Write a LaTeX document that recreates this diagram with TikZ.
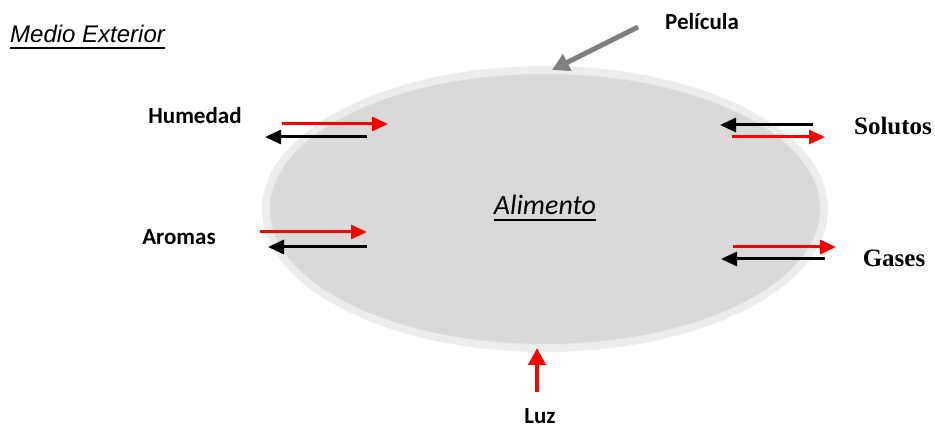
\documentclass[tikz,border=0pt]{standalone}
\usepackage{fontspec}
\setmainfont{Liberation Sans}
\newfontfamily\calib{Carlito}
\newfontfamily\serifb{Liberation Serif}
\usetikzlibrary{arrows.meta}
\definecolor{filmgray}{HTML}{ECECEC}
\definecolor{foodgray}{HTML}{D9D9D9}
\definecolor{arrowgray}{HTML}{808080}
\tikzset{
  lbl/.style={font=\calib\bfseries\fontsize{23}{26}\selectfont, anchor=base, inner sep=0pt},
  serlbl/.style={font=\serifb\bfseries\fontsize{25}{28}\selectfont, anchor=base, inner sep=0pt},
  flux/.style={line width=3pt, -{Triangle[length=16pt,width=14pt]}},
  inflow/.style={flux, red},
  outflow/.style={flux, black},
}
\begin{document}
\begin{tikzpicture}[x=1pt,y=-1pt]
\useasboundingbox (0,0) rectangle (935,430);

% film and food
\fill[filmgray] (545,209) ellipse [x radius=283pt, y radius=143pt];
\fill[foodgray] (545,209) ellipse [x radius=275pt, y radius=135pt];

% titles
\node[anchor=base west, inner sep=0pt, font=\itshape\fontsize{24}{28}\selectfont] (ext) at (10,43) {Medio Exterior};
\draw[line width=2pt] ([yshift=-5pt]ext.base west) -- ([yshift=-5pt]ext.base east);
\node[anchor=base, inner sep=0pt, font=\calib\itshape\fontsize{28}{32}\selectfont] (food) at (545,215) {Alimento};
\draw[line width=1.6pt] ([yshift=-5pt]food.base west) -- ([yshift=-5pt]food.base east);

% labels
\node[lbl] (hum) at (195,124) {Humedad};
\node[lbl] (pel) at (702,30) {Película};
\node[lbl] (aro) at (179,245) {Aromas};
\node[lbl] (luz) at (540,424) {Luz};
\node[serlbl] (sol) at (893,135) {Solutos};
\node[serlbl] (gas) at (894,267) {Gases};

% arrow end points
\coordinate (humA) at (282,124); \coordinate (humB) at (388,124);
\coordinate (humC) at (367,137); \coordinate (humD) at (265,137);
\coordinate (aroA) at (260,232); \coordinate (aroB) at (367,232);
\coordinate (aroC) at (367,247); \coordinate (aroD) at (268,247);
\coordinate (solA) at (813,125); \coordinate (solB) at (720,125);
\coordinate (solC) at (732,137); \coordinate (solD) at (825,137);
\coordinate (gasA) at (733,247); \coordinate (gasB) at (836,247);
\coordinate (gasC) at (825,259); \coordinate (gasD) at (721,259);
\coordinate (luzA) at (537,392); \coordinate (luzB) at (537,348);
\coordinate (pelA) at (638,27);  \coordinate (pelB) at (552,70);

% exchanges through the film
\draw[inflow]  (humA) -- (humB);
\draw[outflow] (humC) -- (humD);
\draw[inflow]  (aroA) -- (aroB);
\draw[outflow] (aroC) -- (aroD);
\draw[outflow] (solA) -- (solB);
\draw[inflow]  (solC) -- (solD);
\draw[inflow]  (gasA) -- (gasB);
\draw[outflow] (gasC) -- (gasD);
\draw[red, line width=4.5pt, -{Triangle[length=17pt,width=17pt]}] (luzA) -- (luzB);
\draw[arrowgray, line width=5pt, -{Triangle[length=17pt,width=18pt]}] (pelA) -- (pelB);
\end{tikzpicture}
\end{document}
